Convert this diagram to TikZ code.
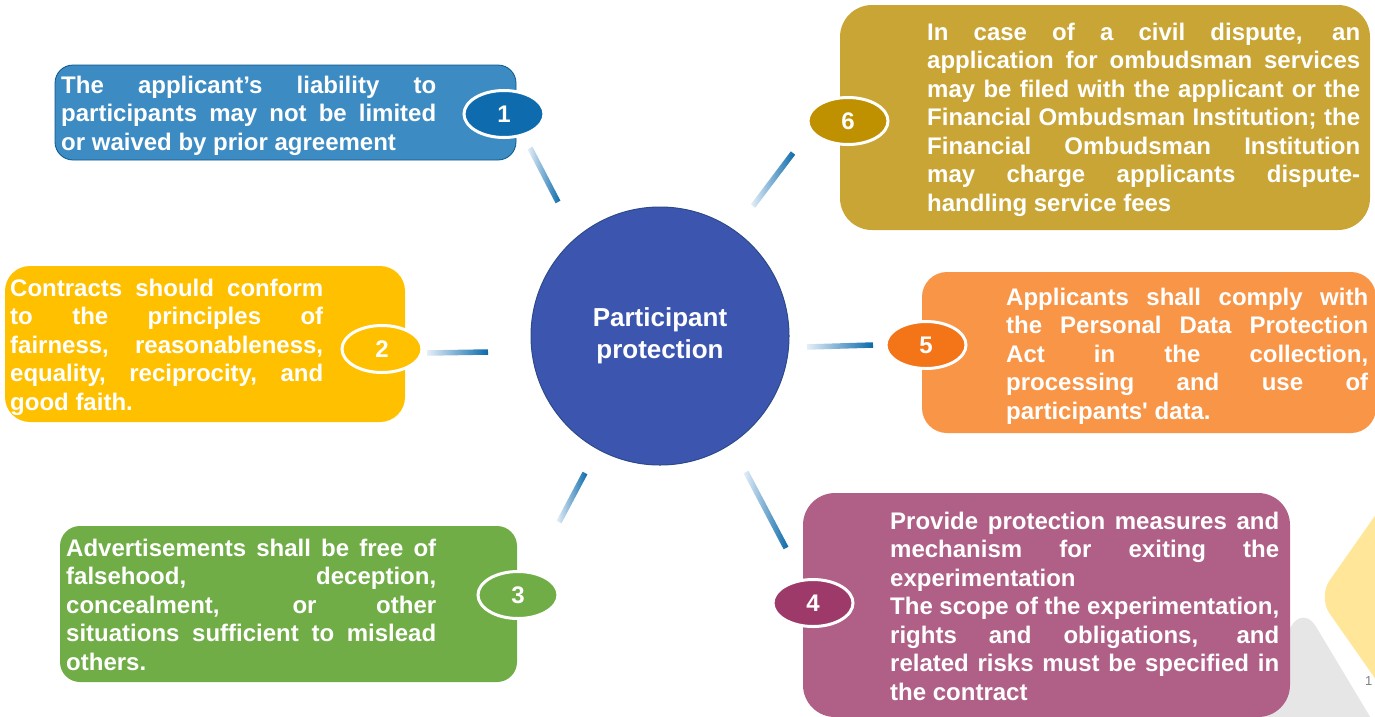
\documentclass[tikz,border=0pt]{standalone}
\usepackage{fontspec}
\setmainfont{Liberation Sans}
\usetikzlibrary{shapes.geometric,calc}

\definecolor{boxblue}{HTML}{3C8BC3}
\definecolor{badgeblue}{HTML}{0E6CAE}
\definecolor{boxyellow}{HTML}{FFC000}
\definecolor{boxgreen}{HTML}{70AD47}
\definecolor{boxplum}{HTML}{B06087}
\definecolor{badgeplum}{HTML}{9E3A6A}
\definecolor{boxorange}{HTML}{F99547}
\definecolor{badgeorange}{HTML}{F47418}
\definecolor{boxgold}{HTML}{C9A535}
\definecolor{badgegold}{HTML}{BF9000}
\definecolor{hub}{HTML}{3C56B0}
\definecolor{hubline}{HTML}{2C4A8A}
\definecolor{spokedark}{HTML}{0B6AAA}
\definecolor{spokelight}{HTML}{E4EEF8}
\definecolor{decoyellow}{HTML}{FFE699}
\definecolor{decogrey}{HTML}{E7E6E6}

% shaded spoke between two coordinates, light end first
\newcommand\spoke[2]{%
  \path let \p1=($(#2)-(#1)$) in
    node[spoke, minimum width={veclen(\x1,\y1)}, rotate={atan2(\y1,\x1)}] (s-#2)
    at ($(#1)!0.5!(#2)$) {};}

% paragraph setup for the box texts
\newcommand\boxpar{\parindent=0pt\tolerance=10000\hbadness=10000\strut}

\begin{document}
\begin{tikzpicture}[x=1pt,y=-1pt,
  box/.style={rectangle, rounded corners=#1, inner sep=0pt},
  box/.default=18,
  txt/.style={inner sep=0pt, anchor=north west, align=justify, text=white,
    font=\fontsize{24}{28.5}\selectfont\bfseries,
    execute at begin node=\boxpar},
  badge/.style={ellipse, draw=white, line width=3pt, minimum width=80, minimum height=47,
    inner sep=0pt, text=white, font=\fontsize{24}{24}\selectfont\bfseries},
  spoke/.style={rectangle, inner sep=0pt, minimum height=5.5, draw=none,
    left color=spokelight, right color=spokedark}]
\useasboundingbox (0,0) rectangle (1375,716);

% corner ornaments
\fill[decoyellow, rounded corners=20] (1318,597) -- (1400,480) -- (1482,597) -- (1400,714) -- cycle;
\fill[decogrey, rounded corners=25] (1222,750) -- (1303,605) -- (1420,800) -- cycle;
\node[anchor=west, text=gray, font=\fontsize{13}{13}\selectfont, inner sep=0pt] (pg) at (1365,681) {1};

% boxes
\node[box, fill=boxblue, draw=badgeblue!80!black, line width=0.8pt, minimum width=461, minimum height=95] (b1) at (285.5,112.5) {};
\node[box=25, fill=boxyellow, minimum width=400, minimum height=156] (b2) at (205,344) {};
\node[box=20, fill=boxgreen, minimum width=457, minimum height=156] (b3) at (288.5,604) {};
\node[box=32, fill=boxplum, minimum width=487, minimum height=224] (b4) at (1046.5,605) {};
\node[box=25, fill=boxorange, minimum width=454, minimum height=161] (b5) at (1149,352.5) {};
\node[box=32, fill=boxgold, minimum width=530, minimum height=225] (b6) at (1105,117.5) {};

% texts
\node[txt, text width=375] (t1) at (61,73) {The applicant’s liability to\linebreak
  participants may not be limited\linebreak or waived by prior agreement};
\node[txt, text width=313] (t2) at (10,276) {Contracts should conform\linebreak
  to the principles of\linebreak fairness, reasonableness,\linebreak
  equality, reciprocity, and\linebreak good faith.};
\node[txt, text width=370] (t3) at (66,536) {Advertisements shall be free of\linebreak
  falsehood, deception,\linebreak concealment, or other\linebreak
  situations sufficient to mislead\linebreak others.};
\node[txt, text width=389] (t4) at (890,509) {Provide protection measures and\linebreak
  mechanism for exiting the\linebreak experimentation\par
  \strut The scope of the experimentation,\linebreak rights and obligations, and\linebreak
  related risks must be specified in\linebreak the contract};
\node[txt, text width=362] (t5) at (1006,285) {Applicants shall comply with\linebreak
  the Personal Data Protection\linebreak Act in the collection,\linebreak
  processing and use of\linebreak participants\textquotesingle\ data.};
\node[txt, text width=433] (t6) at (927,20) {In case of a civil dispute, an\linebreak
  application for ombudsman services\linebreak may be filed with the applicant or the\linebreak
  Financial Ombudsman Institution; the\linebreak Financial Ombudsman Institution\linebreak
  may charge applicants dispute-\linebreak handling service fees};

% hub
\node[circle, fill=hub, draw=hubline, line width=1pt, minimum size=258, align=center,
  text=white, font=\fontsize{26}{31.5}\selectfont\bfseries] (hub) at (660,336) {Participant\\protection};

% badges
\node[badge, fill=badgeblue] (n1) at (504,114) {1};
\node[badge, fill=boxyellow] (n2) at (382,349) {2};
\node[badge, fill=boxgreen] (n3) at (518,595) {3};
\node[badge, fill=badgeplum] (n4) at (813,603) {4};
\node[badge, fill=badgeorange] (n5) at (926,345) {5};
\node[badge, fill=badgegold] (n6) at (848,121) {6};

% spokes
\coordinate (c1l) at (530,148); \coordinate (c1d) at (558,202);
\coordinate (c2l) at (427,353); \coordinate (c2d) at (488,352);
\coordinate (c3l) at (559,522); \coordinate (c3d) at (585,473);
\coordinate (c4l) at (786,548); \coordinate (c4d) at (746,472);
\coordinate (c5l) at (873,345); \coordinate (c5d) at (807,347);
\coordinate (c6l) at (793,153); \coordinate (c6d) at (753,206);
\spoke{c1l}{c1d}
\spoke{c2l}{c2d}
\spoke{c3l}{c3d}
\spoke{c4l}{c4d}
\spoke{c5l}{c5d}
\spoke{c6l}{c6d}
\end{tikzpicture}
\end{document}
